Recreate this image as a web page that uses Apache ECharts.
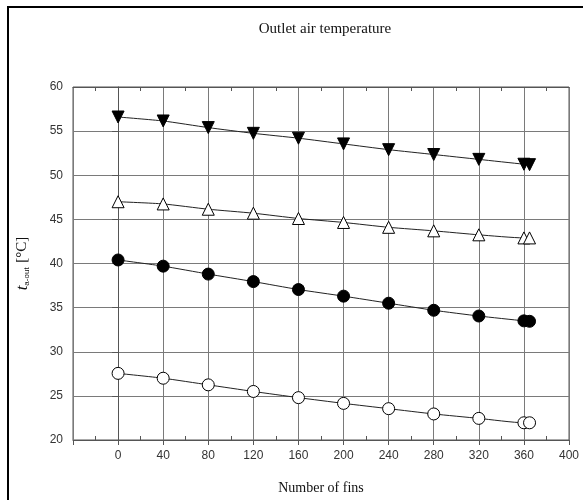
<!DOCTYPE html>
<html>
<head>
<meta charset="utf-8">
<script src="https://cdn.jsdelivr.net/npm/echarts@6/dist/echarts.min.js"></script>
<style>
  html, body { margin: 0; padding: 0; background: #fff; }
  #container { width: 583px; height: 500px; }
</style>
</head>
<body>
<div id="container"></div>
<script>
// number of fins (last point is the doubled marker just past 360)
const fins = [0, 40, 80, 120, 160, 200, 240, 280, 320, 360, 365];
const tDownTri = [56.6, 56.15, 55.4, 54.75, 54.2, 53.55, 52.9, 52.35, 51.8, 51.25, 51.2];
const tUpTri = [47.0, 46.75, 46.15, 45.7, 45.1, 44.65, 44.1, 43.7, 43.25, 42.9, 42.9];
const tDot = [40.4, 39.7, 38.8, 37.95, 37.05, 36.3, 35.5, 34.7, 34.05, 33.5, 33.45];
const tCircle = [27.55, 27.0, 26.25, 25.5, 24.8, 24.15, 23.55, 22.95, 22.45, 21.95, 21.95];

function pairs(ys) {
    return fins.map(function (x, i) { return [x, ys[i]]; });
}

var dom = document.getElementById('container');
var myChart = echarts.init(dom, null, { renderer: 'canvas' });

var labelFont = { color: '#333', fontFamily: 'Liberation Sans', fontSize: 12 };

function makeSeries(name, ys, symbol, rotate, fill) {
    return {
        name: name,
        type: 'line',
        data: pairs(ys),
        symbol: symbol,
        symbolSize: symbol === 'circle' ? 12 : 12,
        symbolRotate: rotate,
        smooth: 0.2,
        lineStyle: { color: '#222', width: 1 },
        itemStyle: { color: fill, borderColor: '#000', borderWidth: 1 },
        z: 5
    };
}

var option = {
    animation: false,
    backgroundColor: '#fff',
    title: {
        text: 'Outlet air temperature',
        left: 320,
        textAlign: 'center',
        top: 17,
        textStyle: { fontFamily: 'Liberation Serif', fontWeight: 'normal', fontSize: 15, color: '#111' }
    },
    grid: {
        left: 73, right: 14, top: 87, bottom: 60,
        show: true, borderColor: '#555', borderWidth: 1
    },
    xAxis: [{
        type: 'value',
        min: -40, max: 400, interval: 40,
        name: 'Number of fins',
        nameLocation: 'middle',
        nameGap: 41,
        nameTextStyle: { fontFamily: 'Liberation Serif', fontSize: 14, color: '#111' },
        axisLine: { show: true, lineStyle: { color: '#555' } },
        axisTick: { show: true, length: 5, lineStyle: { color: '#555' } },
        minorTick: { show: true, splitNumber: 2, length: -4, lineStyle: { color: '#555' } },
        axisLabel: Object.assign({
            margin: 10,
            formatter: function (v) { return v < 0 ? '' : String(v); }
        }, labelFont),
        splitLine: { show: true, lineStyle: { color: '#7a7a7a', width: 1 } }
    }, {
        type: 'value',
        position: 'top',
        min: -40, max: 400, interval: 40,
        axisLine: { show: true, lineStyle: { color: '#555' } },
        axisTick: { show: false },
        minorTick: { show: true, splitNumber: 2, length: -4, lineStyle: { color: '#555' } },
        axisLabel: { show: false },
        splitLine: { show: false }
    }],
    yAxis: {
        type: 'value',
        min: 20, max: 60, interval: 5,
        name: '{i|t}{s|a-out} [°C]',
        nameLocation: 'middle',
        nameRotate: 90,
        nameGap: 42,
        nameTextStyle: {
            fontFamily: 'Liberation Serif', fontSize: 15, color: '#111',
            rich: {
                i: { fontFamily: 'Liberation Serif', fontStyle: 'italic', fontSize: 17, color: '#111' },
                s: { fontFamily: 'Liberation Sans', fontSize: 8, color: '#111', verticalAlign: 'bottom', padding: [7, 1, 0, 0] }
            }
        },
        axisLine: { show: true, lineStyle: { color: '#555' } },
        axisTick: { show: true, length: 6, lineStyle: { color: '#555' } },
        axisLabel: Object.assign({ margin: 10 }, labelFont),
        splitLine: { show: true, lineStyle: { color: '#7a7a7a', width: 1 } }
    },
    graphic: [
        { type: 'line', shape: { x1: 7, y1: 7, x2: 583, y2: 7 }, style: { stroke: '#000', lineWidth: 2 } },
        { type: 'line', shape: { x1: 8, y1: 7, x2: 8, y2: 500 }, style: { stroke: '#000', lineWidth: 2 } }
    ],
    series: [
        makeSeries('down', tDownTri, 'triangle', 180, '#000'),
        makeSeries('up', tUpTri, 'triangle', 0, '#fff'),
        makeSeries('dot', tDot, 'circle', 0, '#000'),
        makeSeries('circle', tCircle, 'circle', 0, '#fff')
    ]
};

myChart.setOption(option);
window.addEventListener('resize', myChart.resize);
</script>
</body>
</html>
